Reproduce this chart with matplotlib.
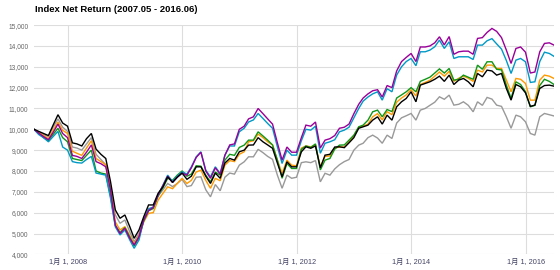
import matplotlib
matplotlib.use('Agg')
import matplotlib.pyplot as plt
import matplotlib.dates as mdates
from matplotlib.ticker import FuncFormatter
import pandas as pd

plt.rcParams['font.family'] = ['Liberation Sans', 'Noto Sans CJK JP', 'DejaVu Sans']

# month-end dates, 2007.05 - 2016.06
dates = pd.date_range('2007-06-01', periods=110, freq='MS') - pd.Timedelta(days=1)

black = [10000, 9900, 9800, 9700, 10200, 10700, 10300, 10150, 9350, 9300, 9200, 9550, 9800, 9050, 8800, 8600, 7500,
         6130, 5730, 5890, 5330, 4770, 5170, 5800, 6370, 6370, 6930, 7240, 7720,
         7450, 7700, 7900, 7600, 7750, 8200, 8200, 7750, 7400, 7900, 7650, 8380, 8600, 8520, 8920, 9000,
         9240, 9250, 9600, 9400, 9250, 9090, 8380, 7720, 8440, 8200, 8200, 8920, 9160, 9090, 9200,
         8150, 8760, 8800, 9150, 9160, 9120, 9350, 9600, 10050, 10120, 10200, 10440, 10600, 10250, 10680, 10440,
         11080, 11320, 11480, 11800, 11320, 12120, 12200, 12280, 12400, 12550, 12300, 12600, 12150,
         12360, 12440, 12280, 12040, 12680, 12520, 12840, 12800, 12600, 12680, 11960, 11400, 12150, 12040, 11750,
         11100, 11160, 11960, 12100, 12120, 12070]

grey = [10000, 9880, 9750, 9650, 10100, 10500, 10100, 9900, 9150, 9100, 9000, 9300, 9600, 8800, 8550, 8300, 7200,
        5890, 5490, 5650, 5080, 4600, 5010, 5650, 6200, 6250, 6800, 7100, 7400,
        7250, 7400, 7600, 7250, 7300, 7700, 7720, 7100, 6760, 7350, 7050, 7700, 7900, 7850, 8280, 8440,
        8680, 8680, 9040, 8880, 8700, 8560, 7800, 7170, 7800, 7650, 7700, 8400, 8440, 8400, 8500,
        7480, 7890, 7800, 8100, 8300, 8450, 8550, 9000, 9240, 9330, 9600, 9720, 9580, 9330, 9720, 9560,
        10300, 10550, 10650, 10760, 10440, 10920, 11000, 11150, 11300, 11560, 11440, 11640, 11160,
        11200, 11320, 11150, 10840, 11320, 11150, 11530, 11450, 11160, 11100, 10600, 10050, 10680, 10600, 10360,
        9800, 9720, 10600, 10760, 10700, 10640]

orange = [10000, 9850, 9700, 9550, 9950, 10350, 9950, 9800, 8950, 8850, 8750, 9100, 9450, 8600, 8450, 8300, 7100,
          5560, 5170, 5330, 4900, 4500, 4900, 5550, 5970, 6000, 6600, 6930, 7240,
          7150, 7400, 7650, 7400, 7550, 7950, 8040, 7550, 7170, 7650, 7530, 8280, 8500, 8450, 8800, 8920,
          9400, 9450, 9770, 9600, 9400, 9250, 8520, 7890, 8520, 8280, 8250, 9100, 9200, 9160, 9250,
          8200, 8700, 8720, 9100, 9150, 9150, 9400, 9700, 10100, 10150, 10250, 10600, 10750, 10450, 10850, 10700,
          11300, 11500, 11650, 11900, 11600, 12150, 12250, 12350, 12550, 12750, 12550, 12780, 12300,
          12450, 12550, 12450, 12300, 12840, 12750, 13080, 13080, 12920, 12920, 12360, 11800, 12440, 12400, 12200,
          11400, 11400, 12360, 12600, 12550, 12440]

green = [10000, 9800, 9600, 9450, 9750, 10050, 9600, 9400, 8600, 8550, 8500, 8750, 9000, 8000, 7900, 7850, 6800,
         5380, 5050, 5280, 4830, 4400, 4800, 5600, 6090, 6200, 6800, 7200, 7650,
         7550, 7800, 8000, 7750, 7850, 8250, 8230, 7800, 7480, 7950, 7800, 8520, 8800, 8750, 9130, 9240,
         9480, 9480, 9880, 9680, 9480, 9250, 8520, 7650, 8360, 8120, 8120, 9040, 9200, 9130, 9300,
         8050, 8520, 8600, 9050, 9240, 9250, 9480, 9720, 10120, 10200, 10440, 10840, 10920, 10600, 10950, 10850,
         11500, 11650, 11800, 12000, 11800, 12300, 12400, 12500, 12700, 12900, 12700, 12920, 12360,
         12400, 12600, 12500, 12400, 13080, 12880, 13240, 13240, 12880, 12850, 12120, 11480, 12280, 12150, 11800,
         11080, 11150, 12100, 12400, 12300, 12150]

purple = [10000, 9820, 9650, 9500, 9850, 10250, 9800, 9600, 8750, 8700, 8600, 8900, 9250, 8450, 8350, 8200, 7100,
          5400, 5000, 5250, 4770, 4450, 4850, 5650, 6100, 6250, 6850, 7300, 7750,
          7450, 7700, 7900, 7800, 8150, 8650, 8900, 8000, 7650, 8150, 7850, 8750, 9250, 9300, 10000, 10150,
          10500, 10600, 11000, 10750, 10500, 10250, 9350, 8520, 9150, 8900, 8900, 9600, 10200, 10150, 10350,
          9100, 9480, 9550, 9700, 10050, 10100, 10250, 10750, 11200, 11500, 11700, 11850, 11900, 11550, 12100, 12000,
          12800, 13250, 13450, 13640, 13250, 13950, 13950, 14000, 14150, 14440, 14050, 14450, 13600,
          13720, 13750, 13750, 13600, 14360, 14400, 14650, 14840, 14700, 14400, 13800, 13160, 13880, 13950, 13700,
          12700, 12750, 13720, 14120, 14150, 14040]

blue = [10000, 9750, 9600, 9400, 9650, 9900, 9150, 9000, 8450, 8400, 8380, 8550, 8700, 7900, 7850, 7800, 6700,
        5320, 4930, 5170, 4690, 4290, 4690, 5650, 6160, 6280, 6850, 7330, 7800,
        7500, 7750, 7960, 7850, 8200, 8680, 8920, 8040, 7720, 8200, 7880, 8760, 9200, 9200, 9880, 10050,
        10350, 10450, 10760, 10520, 10280, 10050, 9160, 8360, 9000, 8760, 8760, 9450, 10000, 9960, 10150,
        8850, 9330, 9400, 9500, 9880, 9960, 10100, 10550, 11000, 11350, 11550, 11700, 11800, 11400, 11950, 11800,
        12600, 13000, 13250, 13400, 13050, 13720, 13720, 13800, 13960, 14280, 13880, 14200, 13400,
        13480, 13480, 13480, 13350, 14040, 14040, 14250, 14350, 14100, 13850, 13300, 12680, 13320, 13400, 13240,
        12250, 12280, 13250, 13700, 13640, 13500]

series = [(grey, '#999999'), (orange, '#ff9900'), (green, '#109618'),
          (blue, '#0099c6'), (purple, '#990099'), (black, '#000000')]

fig = plt.figure(figsize=(5.6, 2.7), dpi=100)
ax = fig.add_axes([0.0607, 0.058, 0.9286, 0.849])

for vals, col in series:
    ax.plot(dates, vals, color=col, lw=1.0, solid_joinstyle='miter')

ax.set_xlim(dates[0], dates[-1])
ax.set_ylim(4000, 15000)
ax.set_yticks(range(4000, 15001, 1000))
ax.yaxis.set_major_formatter(FuncFormatter(lambda v, p: f'{int(v):,}'))
ax.xaxis.set_major_locator(mdates.YearLocator(2))
ax.xaxis.set_major_formatter(FuncFormatter(lambda v, p: f'1月 1, {mdates.num2date(v).year}'))

ax.grid(color='#dddddd', lw=0.8)
ax.set_axisbelow(True)
for s in ax.spines.values():
    s.set_visible(False)
ax.tick_params(length=0)
ax.tick_params(axis='y', labelsize=4.8, labelcolor='#666666', pad=4)
ax.tick_params(axis='x', labelsize=5.3, labelcolor='#444466', pad=3)

fig.text(35 / 560, 1 - 10 / 270, 'Index Net Return (2007.05 - 2016.06)',
         fontsize=6.8, fontweight='bold', va='center', ha='left')

fig.savefig('out.png', dpi=100)
